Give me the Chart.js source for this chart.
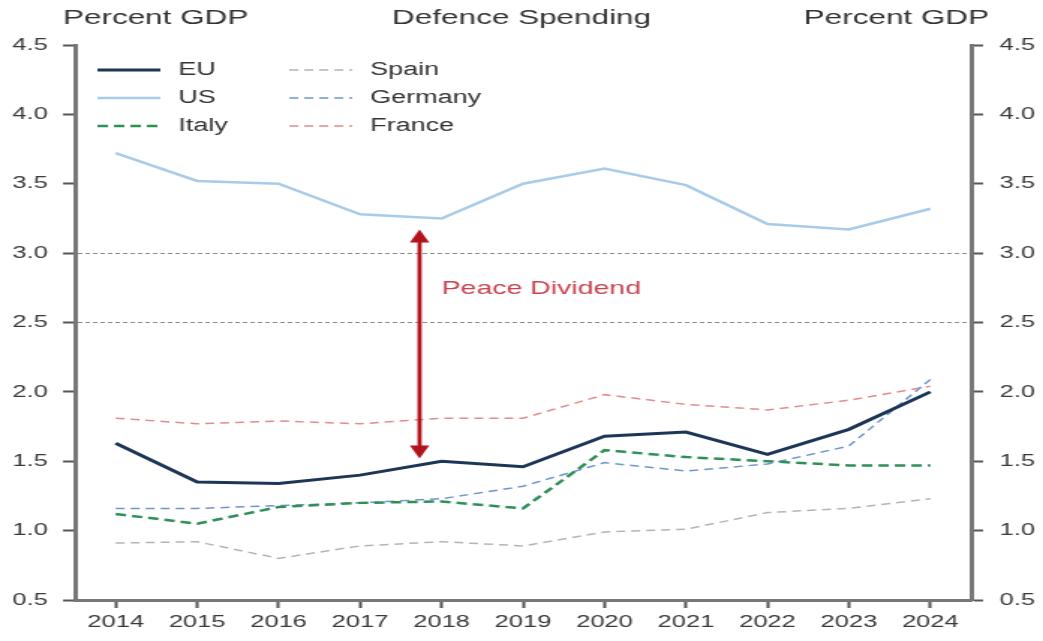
<!DOCTYPE html>
<html>
<head>
    <title>Defence Spending</title>
    <script src="https://cdn.jsdelivr.net/npm/chart.js"></script>
    <style>
        html, body { margin: 0; padding: 0; background: #fff; overflow: hidden; }
        /* the reference is stretched sideways, so draw narrow and widen */
        #myChart { display: block; transform: scaleX(1.4986); transform-origin: 0 0; }
    </style>
</head>
<body>
    <canvas id="myChart" width="696" height="641"></canvas>
    <script>
        const years = ['2014', '2015', '2016', '2017', '2018', '2019', '2020', '2021', '2022', '2023', '2024'];
        const eu = [1.63, 1.35, 1.34, 1.40, 1.50, 1.46, 1.68, 1.71, 1.55, 1.73, 2.00];
        const us = [3.72, 3.52, 3.50, 3.28, 3.25, 3.50, 3.61, 3.49, 3.21, 3.17, 3.32];
        const italy = [1.12, 1.05, 1.17, 1.20, 1.21, 1.16, 1.58, 1.53, 1.50, 1.47, 1.47];
        const spain = [0.91, 0.92, 0.80, 0.89, 0.92, 0.89, 0.99, 1.01, 1.13, 1.16, 1.23];
        const germany = [1.16, 1.16, 1.18, 1.20, 1.23, 1.32, 1.49, 1.43, 1.48, 1.61, 2.09];
        const france = [1.81, 1.77, 1.79, 1.77, 1.81, 1.81, 1.98, 1.91, 1.87, 1.94, 2.04];

        const yTicks = { min: 0.5, max: 4.5, step: 0.5 };
        const refLines = [3.0, 2.5];

        // annotation: arrow between US and EU, category index / value
        const arrowAt = 3.73;
        const arrowSpan = [3.17, 1.52];
        const noteText = 'Peace Dividend';
        const noteAt = [4.0, 2.74];

        const FONT = "'Liberation Sans', Arial, sans-serif";

        const legendPlugin = {
            id: 'decor',
            afterDraw(chart) {
                const ctx = chart.ctx;
                const x = chart.scales.x, y = chart.scales.y;
                ctx.save();

                // titles
                ctx.fillStyle = '#333';
                ctx.font = '21px ' + FONT;
                ctx.textBaseline = 'middle';
                ctx.textAlign = 'left';
                ctx.fillText('Percent GDP', 42, 18);
                ctx.textAlign = 'center';
                ctx.fillText('Defence Spending', 348, 18);
                ctx.textAlign = 'right';
                ctx.fillText('Percent GDP', 660, 18);

                // legend, two columns of three
                ctx.font = '18px ' + FONT;
                ctx.textAlign = 'left';
                chart.data.datasets.forEach((ds, i) => {
                    const col = Math.floor(i / 3), row = i % 3;
                    const lx = col === 0 ? 65 : 193;
                    const ly = 70 + row * 28;
                    ctx.beginPath();
                    ctx.setLineDash(ds.borderDash || []);
                    ctx.lineWidth = ds.borderWidth;
                    ctx.strokeStyle = ds.borderColor;
                    ctx.moveTo(lx, ly);
                    ctx.lineTo(lx + 42, ly);
                    ctx.stroke();
                    ctx.setLineDash([]);
                    ctx.fillStyle = '#333';
                    ctx.fillText(ds.label, lx + 54, ly);
                });

                // double headed arrow
                const ax = x.getPixelForValue(arrowAt);
                const top = y.getPixelForValue(arrowSpan[0]);
                const bot = y.getPixelForValue(arrowSpan[1]);
                const hw = 6.5, hh = 13;
                ctx.strokeStyle = '#b3141c';
                ctx.fillStyle = '#b3141c';
                ctx.lineWidth = 2.8;
                ctx.beginPath();
                ctx.moveTo(ax, top + hh - 1);
                ctx.lineTo(ax, bot - hh + 1);
                ctx.stroke();
                ctx.beginPath();
                ctx.moveTo(ax, top);
                ctx.lineTo(ax - hw, top + hh);
                ctx.lineTo(ax + hw, top + hh);
                ctx.closePath();
                ctx.fill();
                ctx.beginPath();
                ctx.moveTo(ax, bot);
                ctx.lineTo(ax - hw, bot - hh);
                ctx.lineTo(ax + hw, bot - hh);
                ctx.closePath();
                ctx.fill();

                ctx.fillStyle = '#c9424f';
                ctx.font = '19px ' + FONT;
                ctx.textAlign = 'left';
                ctx.fillText(noteText, x.getPixelForValue(noteAt[0]), y.getPixelForValue(noteAt[1]));

                ctx.restore();
            }
        };

        const ctx = document.getElementById('myChart').getContext('2d');
        const myChart = new Chart(ctx, {
            type: 'line',
            data: {
                labels: years,
                datasets: [
                    { label: 'EU', data: eu, borderColor: '#1d3557', borderWidth: 3 },
                    { label: 'US', data: us, borderColor: '#a8cbea', borderWidth: 2.5 },
                    { label: 'Italy', data: italy, borderColor: '#2f8f55', borderWidth: 2.5, borderDash: [7, 4] },
                    { label: 'Spain', data: spain, borderColor: '#b4b4b4', borderWidth: 1.5, borderDash: [6, 4] },
                    { label: 'Germany', data: germany, borderColor: '#6d95cf', borderWidth: 1.5, borderDash: [6, 4] },
                    { label: 'France', data: france, borderColor: '#e58a8a', borderWidth: 1.5, borderDash: [6, 4] }
                ]
            },
            options: {
                responsive: false,
                animation: false,
                devicePixelRatio: 1,
                layout: { padding: { top: 45, left: 0, right: 0, bottom: 0 } },
                elements: {
                    point: { radius: 0 },
                    line: { tension: 0, fill: false }
                },
                plugins: {
                    legend: { display: false },
                    tooltip: { enabled: false }
                },
                scales: {
                    x: {
                        type: 'category',
                        offset: true,
                        afterFit: (s) => { s.height = 41; },
                        grid: { drawOnChartArea: false, offset: false, tickLength: 8, tickWidth: 2, tickColor: '#555' },
                        border: { display: true, color: '#777', width: 3 },
                        ticks: { color: '#3a3a3a', font: { size: 17, family: FONT }, padding: 4, maxRotation: 0, autoSkip: false }
                    },
                    y: {
                        position: 'left',
                        min: yTicks.min,
                        max: yTicks.max,
                        afterFit: (s) => { s.width = 50; },
                        grid: {
                            drawOnChartArea: true,
                            color: (c) => refLines.includes(c.tick && c.tick.value) ? '#8a8a8a' : 'rgba(0,0,0,0)',
                            lineWidth: 1,
                            tickLength: 8,
                            tickWidth: 2,
                            tickColor: '#555'
                        },
                        border: { display: true, color: '#777', width: 3, dash: [3, 2] },
                        ticks: { stepSize: yTicks.step, color: '#3a3a3a', font: { size: 17, family: FONT }, padding: 10, callback: (v) => v.toFixed(1) }
                    },
                    y2: {
                        position: 'right',
                        min: yTicks.min,
                        max: yTicks.max,
                        afterFit: (s) => { s.width = 48; },
                        grid: { drawOnChartArea: false, tickLength: 8, tickWidth: 2, tickColor: '#555' },
                        border: { display: true, color: '#777', width: 3 },
                        ticks: { stepSize: yTicks.step, color: '#3a3a3a', font: { size: 17, family: FONT }, padding: 11, callback: (v) => v.toFixed(1) }
                    }
                }
            },
            plugins: [legendPlugin]
        });
    </script>
</body>
</html>
